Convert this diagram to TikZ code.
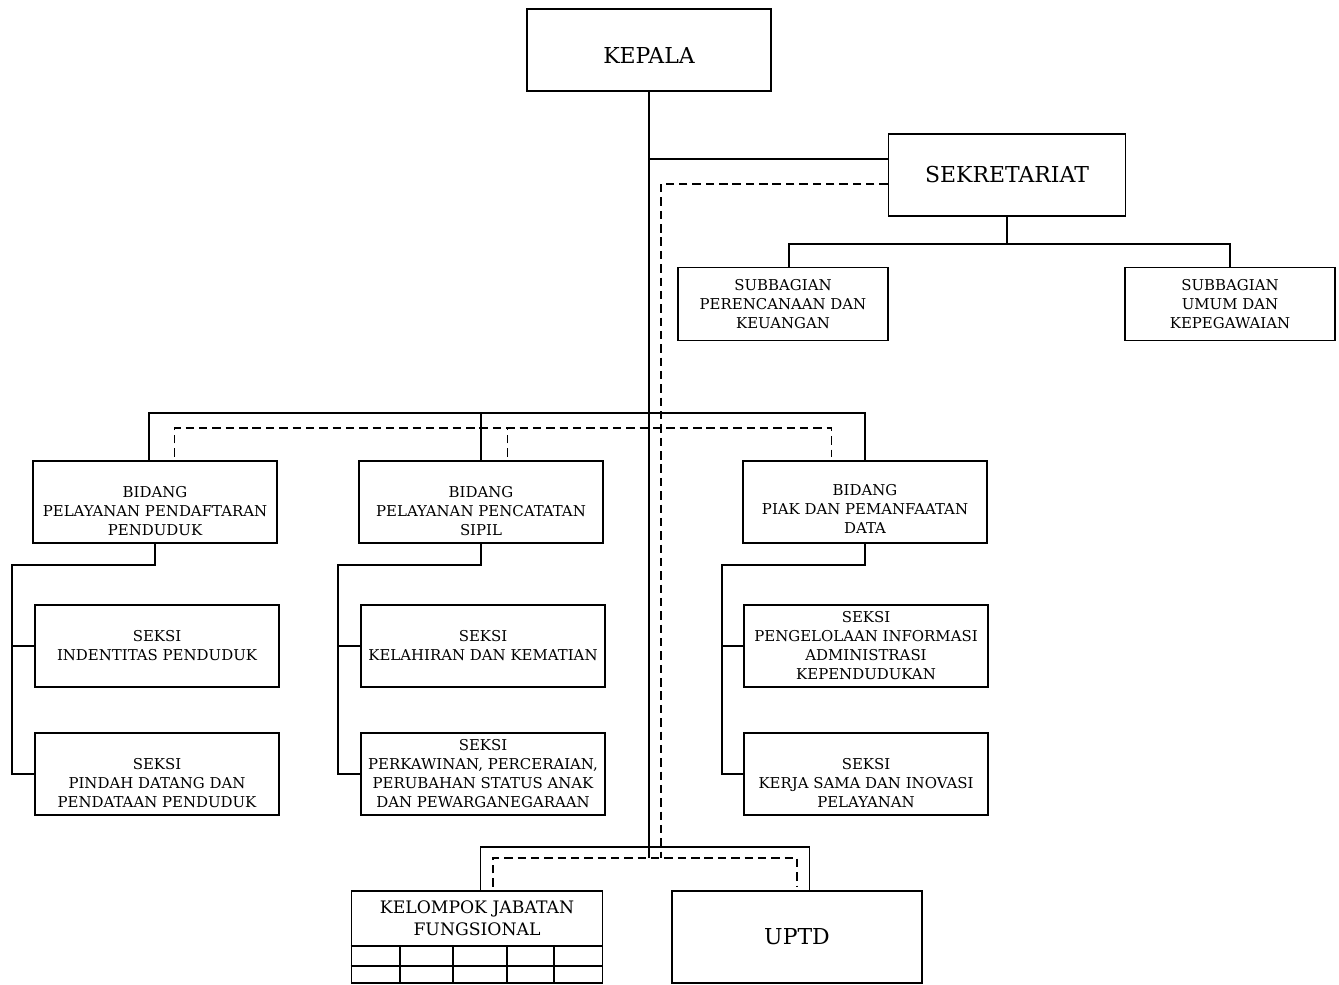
\documentclass[tikz,border=0pt]{standalone}
\usepackage{fontspec}
\setmainfont{DejaVu Serif}

\tikzset{
  unitbox/.style={draw, line width=0.9pt, align=center, inner sep=0pt,
    font=\fontsize{8.5}{10.8}\selectfont},
  unittext/.style={align=center, inner sep=0pt, font=\fontsize{8.5}{10.8}\selectfont},
  bigbox/.style={unitbox, font=\fontsize{12.5}{15}\selectfont},
  bidbox/.style={unitbox, minimum width=4.88cm, minimum height=1.64cm},
  subbox/.style={unitbox, minimum width=4.2cm, minimum height=1.46cm},
  bottombox/.style={unitbox, minimum width=5.02cm, minimum height=1.84cm},
  solidline/.style={line width=0.9pt},
  dashline/.style={line width=0.9pt, dash pattern=on 4.8pt off 2.8pt},
}

\begin{document}
\begin{tikzpicture}[x=0.02cm, y=-0.02cm]
                \useasboundingbox (0, 0) rectangle (1339, 984);

                % pimpinan dan sekretariat
                \node[bigbox, minimum width=4.88cm, minimum height=1.64cm,
                      text height=15.6pt, text depth=0pt] (kepala) at (649, 50) {KEPALA};
                \node[bigbox, minimum width=4.74cm, minimum height=1.64cm] (sekret) at (1007, 175) {SEKRETARIAT};
                \node[subbox] (subren) at (783, 304) {SUBBAGIAN\\PERENCANAAN DAN\\KEUANGAN};
                \node[subbox] (subumum) at (1230, 304) {SUBBAGIAN\\UMUM DAN\\KEPEGAWAIAN};

                % bidang
                \node[bidbox] (bidduk) at (155, 502) {};
                \node[unittext] (biddukt) at (155, 511) {BIDANG\\PELAYANAN PENDAFTARAN\\PENDUDUK};
                \node[bidbox] (bidcapil) at (481, 502) {};
                \node[unittext] (bidcapilt) at (481, 511) {BIDANG\\PELAYANAN PENCATATAN\\SIPIL};
                \node[bidbox] (bidpiak) at (865, 502) {};
                \node[unittext] (bidpiakt) at (865, 509) {BIDANG\\PIAK DAN PEMANFAATAN\\DATA};

                % seksi
                \node[bidbox] (seksiid) at (157, 646) {SEKSI\\INDENTITAS PENDUDUK};
                \node[bidbox] (seksipindah) at (157, 774) {};
                \node[unittext] (seksipindaht) at (157, 783) {SEKSI\\PINDAH DATANG DAN\\PENDATAAN PENDUDUK};
                \node[bidbox] (seksilahir) at (483, 646) {SEKSI\\KELAHIRAN DAN KEMATIAN};
                \node[bidbox] (seksikawin) at (483, 774) {SEKSI\\PERKAWINAN, PERCERAIAN,\\PERUBAHAN STATUS ANAK\\DAN PEWARGANEGARAAN};
                \node[bidbox] (seksiinfo) at (866, 646) {SEKSI\\PENGELOLAAN INFORMASI\\ADMINISTRASI\\KEPENDUDUKAN};
                \node[bidbox] (seksikerja) at (866, 774) {};
                \node[unittext] (seksikerjat) at (866, 783) {SEKSI\\KERJA SAMA DAN INOVASI\\PELAYANAN};

                % jabatan fungsional dan uptd
                \node[bottombox] (kjf) at (477, 937) {};
                \node[unittext, font=\fontsize{9.8}{12.4}\selectfont] (kjft) at (477, 918) {KELOMPOK JABATAN\\FUNGSIONAL};
                \node[bigbox, minimum width=5.0cm, minimum height=1.84cm] (uptd) at (797, 937) {UPTD};
                \draw[solidline] (kjf.south west) ++(0, -38) -- ++(251, 0);
                \draw[solidline] (kjf.south west) ++(0, -18) -- ++(251, 0);
                \foreach \dx in {49, 102, 156, 203}
                    \draw[solidline] (kjf.south west) ++(\dx, 0) -- ++(0, -38);

                % garis komando
                \coordinate (trunkend) at (649, 858);
                \coordinate (sekjoin) at (649, 159);
                \coordinate (subbus) at (1009, 244);
                \coordinate (bidbus) at (649, 413);
                \coordinate (lowbus) at (649, 847);
                \draw[solidline] (kepala) -- (trunkend);
                \draw[solidline] (sekjoin) -- (sekjoin -| sekret.west);
                \draw[solidline] (sekret.south) -- (sekret.south |- subbus);
                \draw[solidline] ([xshift=3.4pt]subren.north) |- (subbus) -| (subumum.north);
                \draw[solidline] ([xshift=-3.4pt]bidduk.north) |- (bidbus) -| (bidpiak.north);
                \draw[solidline] (bidcapil.north) -- (bidcapil.north |- bidbus);
                \draw[solidline] ([xshift=2pt]kjf.north) |- (lowbus) -| ([xshift=7pt]uptd.north);

                % seksi di bawah bidang
                \coordinate (rail1) at (12, 565);
                \coordinate (rail2) at (338, 565);
                \coordinate (rail3) at (722, 565);
                \draw[solidline] (bidduk.south) |- (rail1) |- (seksipindah.west);
                \draw[solidline] (seksiid.west) -- (seksiid.west -| rail1);
                \draw[solidline] (bidcapil.south) |- (rail2) |- (seksikawin.west);
                \draw[solidline] (seksilahir.west) -- (seksilahir.west -| rail2);
                \draw[solidline] (bidpiak.south) |- (rail3) |- (seksikerja.west);
                \draw[solidline] (seksiinfo.west) -- (seksiinfo.west -| rail3);

                % garis koordinasi
                \coordinate (dtrunk) at (661, 858);
                \coordinate (dbidbus) at (661, 428);
                \draw[dashline] ([yshift=-5pt]sekret.west) -| (dtrunk);
                \draw[dashline] ([xshift=11pt, yshift=2pt]bidduk.north) |- (dbidbus) -| ([xshift=-19pt, yshift=2pt]bidpiak.north);
                \draw[dashline] ([xshift=15pt, yshift=2pt]bidcapil.north) -- ([xshift=15pt]bidcapil.north |- dbidbus);
                \draw[dashline] ([xshift=9pt, yshift=2pt]kjf.north) |- (dtrunk) -| ([yshift=2pt]uptd.north);
\end{tikzpicture}
\end{document}
